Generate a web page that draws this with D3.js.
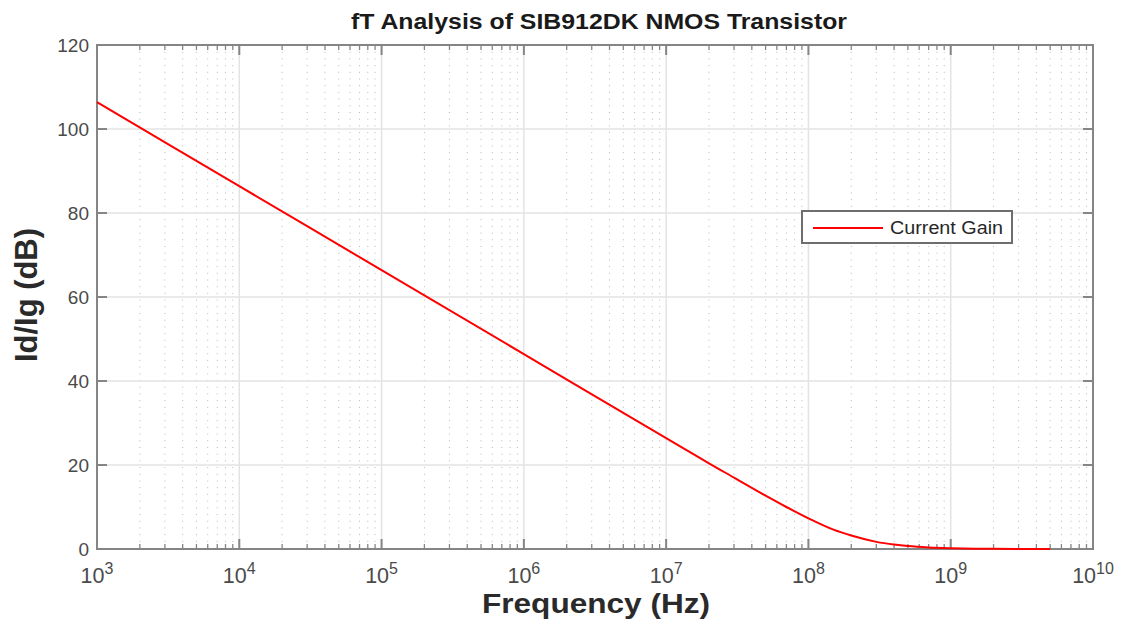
<!DOCTYPE html>
<html>
<head>
<meta charset="utf-8">
<script src="https://cdn.jsdelivr.net/npm/d3@7"></script>
<style>
  body { margin: 0; background: #fff; }
  text { font-family: "Liberation Sans", Arial, sans-serif; }
</style>
</head>
<body>
<div id="chart"></div>
<script>
// values
var freqs = [1e3, 1e4, 1e5, 1e6, 1e7, 1.5e7, 2e7, 3e7, 5e7, 7e7, 1e8, 1.5e8, 2e8, 3e8, 4e8, 5e8, 7e8, 1e9, 1.5e9, 2e9, 3e9, 5e9];
var gainDb = [106.4, 86.4, 66.4, 46.4, 26.4, 22.9, 20.4, 17.0, 12.7, 10.0, 7.3, 4.6, 3.2, 1.7, 1.05, 0.7, 0.37, 0.19, 0.08, 0.05, 0.02, 0.01];
var yTicks = [0, 20, 40, 60, 80, 100, 120];
var xExponents = [3, 4, 5, 6, 7, 8, 9, 10];
var title = "fT Analysis of SIB912DK NMOS Transistor";
var xTitle = "Frequency (Hz)";
var yTitle = "Id/Ig (dB)";
var seriesName = "Current Gain";

var width = 1129, height = 626;
var margin = { left: 97, right: 36, top: 45, bottom: 77 };

var svg = d3.select("#chart").append("svg")
    .attr("width", width)
    .attr("height", height);

var x = d3.scaleLog()
    .domain([1e3, 1e10])
    .range([margin.left, width - margin.right]);

var y = d3.scaleLinear()
    .domain([0, 120])
    .range([height - margin.bottom, margin.top]);

var x0 = x.range()[0], x1 = x.range()[1];
var y0 = y.range()[0], y1 = y.range()[1];

// minor decade positions 2..9
var minor = [];
for (var e = 3; e < 10; e++) {
    for (var m = 2; m <= 9; m++) minor.push(m * Math.pow(10, e));
}
var major = xExponents.map(function (e) { return Math.pow(10, e); });

// minor grid (dotted)
svg.append("g").selectAll("line")
    .data(minor)
    .enter().append("line")
      .attr("x1", d => x(d)).attr("x2", d => x(d))
      .attr("y1", y1).attr("y2", y0)
      .attr("stroke", "#b8b8b8")
      .attr("stroke-width", 1)
      .attr("stroke-dasharray", "1,5.7");

// major grid
svg.append("g").selectAll("line")
    .data(major.slice(1, -1))
    .enter().append("line")
      .attr("x1", d => x(d)).attr("x2", d => x(d))
      .attr("y1", y1).attr("y2", y0)
      .attr("stroke", "#e3e3e3")
      .attr("stroke-width", 1.5);

svg.append("g").selectAll("line")
    .data(yTicks.slice(1, -1))
    .enter().append("line")
      .attr("x1", x0).attr("x2", x1)
      .attr("y1", d => y(d)).attr("y2", d => y(d))
      .attr("stroke", "#e3e3e3")
      .attr("stroke-width", 1.5);

// axes box
var axisColor = "#858585";
svg.append("rect")
    .attr("x", x0).attr("y", y1)
    .attr("width", x1 - x0).attr("height", y0 - y1)
    .attr("fill", "none")
    .attr("stroke", axisColor)
    .attr("stroke-width", 2);

// ticks (inside, top and bottom)
var ticks = svg.append("g").attr("stroke", axisColor).attr("stroke-width", 1.3);
minor.forEach(function (d) {
    ticks.append("line").attr("x1", x(d)).attr("x2", x(d)).attr("y1", y0).attr("y2", y0 - 5);
    ticks.append("line").attr("x1", x(d)).attr("x2", x(d)).attr("y1", y1).attr("y2", y1 + 5);
});
major.forEach(function (d) {
    ticks.append("line").attr("x1", x(d)).attr("x2", x(d)).attr("y1", y0).attr("y2", y0 - 10).attr("stroke-width", 2);
    ticks.append("line").attr("x1", x(d)).attr("x2", x(d)).attr("y1", y1).attr("y2", y1 + 10).attr("stroke-width", 2);
});
yTicks.forEach(function (d) {
    ticks.append("line").attr("x1", x0).attr("x2", x0 + 10).attr("y1", y(d)).attr("y2", y(d)).attr("stroke-width", 2);
    ticks.append("line").attr("x1", x1).attr("x2", x1 - 10).attr("y1", y(d)).attr("y2", y(d)).attr("stroke-width", 2);
});

// the curve, drawn over the axes like the reference
var line = d3.line()
    .x(function (d, i) { return x(freqs[i]); })
    .y(function (d) { return y(d); })
    .curve(d3.curveMonotoneX);

svg.append("path")
    .datum(gainDb)
    .attr("d", line)
    .attr("fill", "none")
    .attr("stroke", "#ff0000")
    .attr("stroke-width", 2);

// tick labels
var labelColor = "#4a4a4a";
svg.append("g").selectAll("text")
    .data(yTicks)
    .enter().append("text")
      .attr("x", x0 - 8)
      .attr("y", d => y(d) + 7)
      .attr("text-anchor", "end")
      .attr("font-size", 19)
      .attr("fill", labelColor)
      .text(d => d);

var xl = svg.append("g").selectAll("text")
    .data(xExponents)
    .enter().append("text")
      .attr("x", d => x(Math.pow(10, d)))
      .attr("y", y0 + 34)
      .attr("text-anchor", "middle")
      .attr("font-size", 21.5)
      .attr("fill", labelColor);
xl.append("tspan").text("10");
xl.append("tspan")
    .attr("dy", -9)
    .attr("font-size", 16)
    .text(d => d);

// titles
svg.append("text")
    .attr("x", 599)
    .attr("y", 29)
    .attr("text-anchor", "middle")
    .attr("font-size", 22)
    .attr("font-weight", "bold")
    .attr("fill", "#1a1a1a")
    .attr("textLength", 496)
    .attr("lengthAdjust", "spacingAndGlyphs")
    .text(title);

svg.append("text")
    .attr("x", 596)
    .attr("y", 613)
    .attr("text-anchor", "middle")
    .attr("font-size", 27)
    .attr("font-weight", "bold")
    .attr("fill", "#2a2a2a")
    .attr("textLength", 228)
    .attr("lengthAdjust", "spacingAndGlyphs")
    .text(xTitle);

svg.append("text")
    .attr("transform", "translate(37,295) rotate(-90)")
    .attr("text-anchor", "middle")
    .attr("font-size", 31)
    .attr("font-weight", "bold")
    .attr("fill", "#2a2a2a")
    .attr("textLength", 134)
    .attr("lengthAdjust", "spacingAndGlyphs")
    .text(yTitle);

// legend
var lg = svg.append("g").attr("transform", "translate(802,211)");
lg.append("rect")
    .attr("width", 210).attr("height", 32)
    .attr("fill", "#fff")
    .attr("stroke", "#6e6e6e")
    .attr("stroke-width", 2);
lg.append("line")
    .attr("x1", 11).attr("x2", 81)
    .attr("y1", 17).attr("y2", 17)
    .attr("stroke", "#ff0000")
    .attr("stroke-width", 2);
lg.append("text")
    .attr("x", 88).attr("y", 23)
    .attr("font-size", 17.5)
    .attr("fill", "#262626")
    .attr("textLength", 113)
    .attr("lengthAdjust", "spacingAndGlyphs")
    .text(seriesName);
</script>
</body>
</html>
